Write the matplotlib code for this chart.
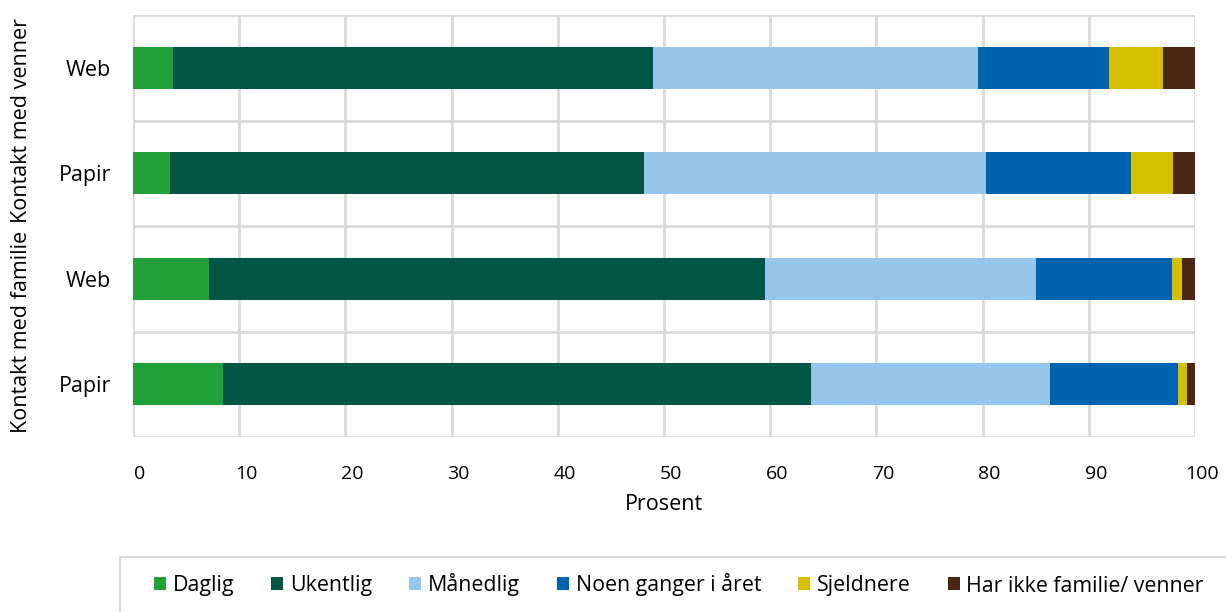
import numpy as np
import matplotlib
matplotlib.use("Agg")
import matplotlib.pyplot as plt
import matplotlib.transforms as mtransforms
from matplotlib.patches import Rectangle

plt.rcParams['font.family'] = ['Open Sans', 'DejaVu Sans']

# bottom to top
rows = ["Papir", "Web", "Papir", "Web"]
groups = ["Kontakt med familie", "Kontakt med venner"]
series = ["Daglig", "Ukentlig", "Månedlig", "Noen ganger i året", "Sjeldnere", "Har ikke familie/ venner"]

daglig = [8.5, 7.2, 3.5, 3.8]
ukentlig = [55.3, 52.3, 44.6, 45.2]
maanedlig = [22.5, 25.5, 32.2, 30.6]
noen_ganger = [12.1, 12.8, 13.7, 12.3]
sjeldnere = [0.8, 1.0, 3.9, 5.1]
har_ikke = [0.8, 1.2, 2.1, 3.0]

colors = ["#21a038", "#025645", "#96c6eb", "#0063af", "#d6bf00", "#4a2614"]
xticks = list(range(0, 101, 10))

fig = plt.figure(figsize=(12.26, 6.12), dpi=100)
ax = fig.add_axes([133 / 1226, 1 - 437 / 612, (1195 - 133) / 1226, (437 - 15) / 612])

y = np.arange(len(rows))
left = np.zeros(len(rows))
for name, vals, col in zip(series, [daglig, ukentlig, maanedlig, noen_ganger, sjeldnere, har_ikke], colors):
    ax.barh(y, vals, left=left, height=0.4, color=col, label=name, zorder=3)
    left += np.array(vals)

ax.set_xlim(0, 100)
ax.set_ylim(-0.5, len(rows) - 0.5)
ax.set_xticks(xticks)
ax.set_yticks(y)
ax.set_yticklabels(rows, fontsize=15.5)
ax.set_yticks(np.arange(-0.5, len(rows), 1.0), minor=True)
ax.tick_params(axis='both', length=0, colors='black')
ax.tick_params(axis='x', pad=20, labelsize=14)
ax.tick_params(axis='y', pad=16)
ax.tick_params(axis='y', which='minor', length=0)
ax.grid(axis='x', color='#d9d9d9', linewidth=2, zorder=0)
ax.grid(axis='y', which='minor', color='#d9d9d9', linewidth=2, zorder=0)
for s in ax.spines.values():
    s.set_visible(False)

offset = mtransforms.ScaledTranslation(7 / 100, 0, fig.dpi_scale_trans)
for lbl in ax.get_xticklabels():
    lbl.set_transform(lbl.get_transform() + offset)

ax.set_xlabel("Prosent", fontsize=15.5, labelpad=8)

# group labels
grp_tr = mtransforms.blended_transform_factory(fig.transFigure, ax.transData)
for i, g in enumerate(groups):
    ax.text(22 / 1226, 2 * i + 0.5, g, transform=grp_tr, rotation=90,
            ha='center', va='center', fontsize=15.5)

# legend box
fig.patches.append(Rectangle((120 / 1226, -0.02), 1.0, 1 - 557 / 612 + 0.02,
                             transform=fig.transFigure, facecolor='white',
                             edgecolor='#d9d9d9', linewidth=1.5, zorder=0))
handles, labels = ax.get_legend_handles_labels()
fig.legend(handles, labels, loc='center', bbox_to_anchor=(679 / 1226, 1 - 585 / 612),
           ncol=6, frameon=False, fontsize=15.4, handlelength=0.56, handleheight=0.56,
           handletextpad=0.3, columnspacing=1.75)

fig.savefig("out.png", dpi=100)
